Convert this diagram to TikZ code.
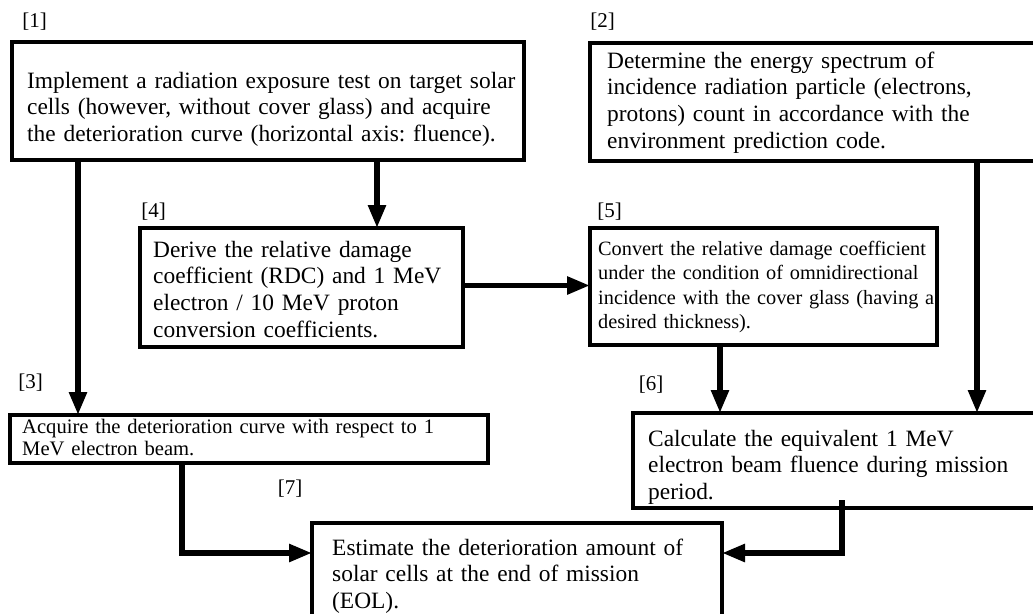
\documentclass[tikz,border=0pt]{standalone}
\usepackage{fontspec}
\setmainfont{Liberation Serif}
\usetikzlibrary{arrows.meta,calc}
\frenchspacing
\begin{document}
\begin{tikzpicture}[x=1pt,y=-1pt,
  box/.style={draw, line width=4.5pt, inner sep=0pt, outer sep=0pt, anchor=north west},
  txt/.style={anchor=base west, inner sep=0pt, align=left, text width=#1,
    font=\fontsize{23.4}{26.7}\selectfont},
  smalltxt/.style={anchor=base west, inner sep=0pt, align=left, text width=#1},
  lbl/.style={inner sep=0pt, font=\fontsize{21}{24}\selectfont},
  arr/.style={line width=5.5pt, -{Triangle[length=23pt,width=17pt]}}]
\clip (0,0) rectangle (1033,613);
\fill[white] (0,0) rectangle (1033,613);

% boxes
\node[box, minimum width=512pt, minimum height=118pt] (b1) at (12,42) {};
\node[box, minimum width=450pt, minimum height=118pt] (b2) at (590,43) {};
\node[box, minimum width=323pt, minimum height=119pt] (b4) at (140,228) {};
\node[box, minimum width=347pt, minimum height=117pt] (b5) at (590,228) {};
\node[box, minimum width=478pt, minimum height=48pt] (b3) at (10,415) {};
\node[box, minimum width=407pt, minimum height=95pt] (b6) at (633,413) {};
\node[box, minimum width=410pt, minimum height=110pt] (b7) at (312,523) {};

% texts
\node[txt=560pt] (t1) at (27,88) {Implement a radiation exposure test on target solar\\cells (however, without cover glass) and acquire\\the deterioration curve (horizontal axis: fluence).};
\node[txt=480pt] (t2) at (607,68) {Determine the energy spectrum of\\incidence radiation particle (electrons,\\protons) count in accordance with the\\environment prediction code.};
\node[txt=380pt] (t4) at (153,257) {Derive the relative damage\\coefficient (RDC) and 1 MeV\\electron / 10 MeV proton\\conversion coefficients.};
\node[smalltxt=400pt, font=\fontsize{20.3}{24.5}\selectfont] (t5) at (598,255) {Convert the relative damage coefficient\\under the condition of omnidirectional\\incidence with the cover glass (having a\\desired thickness).};
\node[smalltxt=520pt, font=\fontsize{20.6}{22.5}\selectfont] (t3) at (22,433) {Acquire the deterioration curve with respect to 1\\MeV electron beam.};
\node[txt=440pt] (t6) at (648,446) {Calculate the equivalent 1 MeV\\electron beam fluence during mission\\period.};
\node[txt=450pt] (t7) at (332,555) {Estimate the deterioration amount of\\solar cells at the end of mission\\(EOL).};

% labels
\node[lbl] (l1) at (34.5,22) {[1]};
\node[lbl] (l2) at (602.5,22) {[2]};
\node[lbl] (l3) at (30.5,383) {[3]};
\node[lbl] (l4) at (153.5,211.5) {[4]};
\node[lbl] (l5) at (609.5,211.5) {[5]};
\node[lbl] (l6) at (651,385) {[6]};
\node[lbl] (l7) at (290,489) {[7]};

% connectors
\coordinate (x1) at (78,0);
\coordinate (x2) at (377,0);
\coordinate (y3) at (0,285.5);
\coordinate (x4) at (977,0);
\coordinate (x5) at (720,0);
\coordinate (x6) at (182,0);
\coordinate (y7) at (0,553);
\coordinate (x8) at (842,0);
\draw[arr] (b1.south -| x1) -- (b3.north -| x1);
\draw[arr] (b1.south -| x2) -- (b4.north -| x2);
\draw[arr] (b4.east |- y3) -- (b5.west |- y3);
\draw[arr] (b2.south -| x4) -- (b6.north -| x4);
\draw[arr] (b5.south -| x5) -- (b6.north -| x5);
\draw[arr] (b3.south -| x6) -- (x6 |- y7) -- (b7.west |- y7);
\draw[arr] ($(b6.south -| x8)+(0,-8)$) -- (x8 |- y7) -- (b7.east |- y7);
\end{tikzpicture}
\end{document}
